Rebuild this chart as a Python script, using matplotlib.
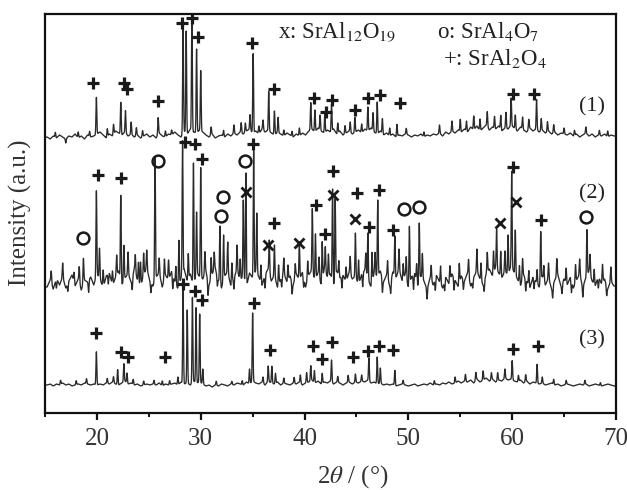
import numpy as np
import matplotlib
matplotlib.use("Agg")
import matplotlib.pyplot as plt

plt.rcParams['font.family'] = ['Liberation Serif', 'DejaVu Serif']
plt.rcParams['mathtext.fontset'] = 'stix'

# ---------------- data (2theta in degrees, intensity in arbitrary units) ----------------
# pattern (1)
base1 = 276
peaks1_pos = [19.95, 22.3, 22.75, 25.9, 28.3, 28.6, 29.15, 29.6, 30.0, 34.75, 35.05, 36.55, 37.1, 37.45,
              40.6, 41.0, 41.5, 41.95, 42.6, 44.85, 46.1, 46.6, 47.0, 47.5, 48.9, 59.9, 60.3, 62.35, 62.8]
peaks1_h = [37, 32, 22, 17, 110, 102, 120, 84, 60, 15, 79, 39, 24, 15,
            27, 22, 15, 18, 27, 15, 24, 18, 32, 15, 12, 27, 14, 30, 12]
minor1_pos = [16.0, 17.0, 18.2, 19.3, 21.0, 21.6, 23.3, 23.8, 24.4, 26.6, 27.2, 31.0, 32.2, 33.2, 33.9,
              34.3, 35.6, 36.0, 38.0, 38.8, 39.5, 43.2, 43.9, 44.4, 45.5, 48.2, 49.8, 51.5, 53.0, 54.2,
              55.0, 55.6, 56.3, 56.9, 57.6, 58.3, 58.9, 59.4, 61.0, 61.6, 63.4, 64.0, 65.0, 66.0, 67.1,
              68.4, 69.2]
minor1_h = [5, -4, 6, 5, 8, 10, 12, 8, 6, 6, 5, 8, 6, 8, 10,
            9, 8, 10, 6, 5, 8, 10, 8, 10, 9, 8, 6, 5, 8, 10,
            12, 10, 14, 12, 15, 12, 14, 16, 12, 10, 10, 8, 6, 5, 6,
            5, 6]
noise1 = [0, -2, 1, -1, 2, 0, -2, 1, 0, 3, -1, 1, -2, 2, 0, 1, 3,
          5, 2, -1, 3, 1, 6, 4, 2, 5, 1, 3, 0, 2, -1, 1, 3, 0,
          2, -1, 4, 1, 0, 3, 2, 5, 2, 0, 6, 3, 8, 5, 4, 7,
          5, 2, 0, 3, -1, 1, 2, 0, 3, 1, 4, 2, 5, 3, 6, 8, 4,
          6, 3, 8, 5, 7, 4, 2, 5, 3, 1, 4, 2, 0, 3, 1, 4, 2,
          6, 8, 5, 9, 6, 4, 7, 5, 8, 3, 6, 2, 4, 6, 3, 5,
          7, 4, 8, 6, 9, 5, 3, 6, 2, 4, 1, 3, 0, 2, 1, 3, 2,
          0, 2, 1, 3, 0, 2, 1, 3, 2, 4, 1, 5, 3, 6, 4, 7, 5,
          8, 5, 10, 7, 11, 6, 9, 12, 7, 10, 8, 11, 6, 9, 8, 12,
          9, 6, 10, 7, 5, 9, 6, 8, 5, 7, 4, 6, 3, 5, 2, 4, 3,
          2, 4, 1, 3, 0, 2, 4, 1, 3, 0, 2, 1, 3, 0, 2, 1]

# pattern (2)
base2 = 130
peaks2_pos = [18.7, 19.95, 20.25, 22.3, 22.6, 24.0, 24.5, 25.6, 26.5, 27.9,
              28.25, 29.3, 29.6, 30.0, 31.0, 31.85, 32.2, 32.6, 33.5, 34.1,
              34.35, 35.1, 35.4, 36.6, 37.1, 38.0, 39.5, 40.75, 41.05, 41.7,
              42.0, 42.7, 42.95, 44.0, 44.9, 45.2, 46.1, 46.5, 47.05, 48.7,
              49.5, 50.1, 51.05, 51.35, 57.6, 58.5, 58.9, 59.6, 59.95, 60.3,
              61.0, 62.75, 63.05, 66.5, 67.2, 67.5]
peaks2_h = [25, 85, 30, 85, 35, 20, 22, 123, 20, 45,
            133, 123, 60, 110, 20, 58, 45, 30, 25, 75,
            112, 125, 60, 33, 30, 15, 36, 63, 45, 38,
            25, 93, 80, 15, 43, 25, 46, 30, 76, 40,
            15, 58, 58, 25, 20, 40, 25, 40, 95, 45,
            20, 50, 15, 15, 46, 20]
minor2_pos = [15.6, 16.1, 16.7, 17.2, 17.8, 18.3, 19.2, 20.6, 21.1, 21.5, 21.9, 23.0, 23.4, 23.7, 24.2,
              24.8, 25.2, 26.0, 26.9, 27.3, 27.6, 28.8, 30.4, 30.7, 31.3, 31.6, 33.0, 33.2, 33.8, 35.8,
              36.2, 37.5, 37.8, 38.4, 38.8, 39.1, 39.9, 40.3, 41.4, 42.3, 43.3, 43.6, 44.4, 45.6, 45.9,
              46.8, 47.5, 48.0, 48.3, 49.1, 49.8, 50.5, 50.8, 51.8, 52.2, 52.6, 53.1, 53.5, 54.0, 54.4,
              54.9, 55.3, 55.8, 56.2, 56.6, 57.0, 57.3, 58.2, 59.3, 60.7, 61.3, 61.6, 62.1, 62.4, 63.5,
              63.9, 64.3, 64.8, 65.2, 65.7, 66.1, 66.8, 67.9, 68.3, 68.7, 69.1, 69.5]
minor2_h = [12, -10, 14, -8, 10, 16, -12, 18, -10, 15, 20, 22, -12, 18, 25,
            18, -10, 15, 20, -14, 18, 25, 22, -15, 18, -10, 20, -12, 22, 18,
            -14, 20, -10, 15, -12, 14, -10, 18, 20, 22, 15, -12, 18, -14, 20,
            22, -14, 18, -12, 20, 22, -15, 18, -10, 15, -12, 18, -10, 15, -12,
            20, -10, 18, -8, 22, 18, -10, 22, 20, 18, -12, 15, -10, 14, 15,
            -12, 18, -10, 15, -12, 18, -10, 15, -12, 18, -10, 14]
noise2 = [-4, 3, -6, 5, -2, 6, -5, 2, 8, -3, 4, -7, 3, 1, 6, -2, 9,
          4, -5, 7, 10, -3, 6, 12, -2, 5, 9, 1, 14, 3, -4, 8, 15, 2,
          -3, 6, 10, -4, 8, 3, 12, 1, -6, 5, 14, 2, 9, -3, 11, 6,
          4, 12, -2, 9, 15, 3, -5, 7, 11, -3, 6, 13, 2, 8, -4, 10, 5,
          12, 6, -3, 9, 14, 2, 8, -5, 4, 10, 1, 7, -2, 9, 3, 11, -4,
          8, 13, 3, 10, -2, 14, 6, 9, -3, 12, 5, 8, 1, 11, 4, 7,
          -2, 9, 13, 4, -4, 10, 6, 12, 1, 8, -3, 11, 5, 14, 2, 9, -5,
          6, 10, -3, 7, 2, -6, 5, -2, 8, 1, -5, 6, -1, 9, 3, -4, 7,
          2, 10, -3, 6, 12, 4, -2, 9, 14, 7, 16, 10, 5, 12, 8, 18,
          10, 4, -3, 8, 2, -5, 6, 1, -4, 7, -2, 5, -6, 3, 8, -3, 4,
          -2, 6, -5, 3, 9, -4, 5, 12, 2, -3, 7, -1, 4, -6, 2, -3]

# pattern (3)
base3 = 28
peaks3_pos = [19.95, 22.0, 22.6, 22.9, 26.3, 28.3, 28.7, 29.2, 29.55, 29.9,
              30.2, 34.7, 35.0, 36.5, 36.85, 37.2, 40.6, 40.95, 41.7, 42.6,
              44.9, 46.2, 47.0, 47.3, 48.7, 60.0, 62.4]
peaks3_h = [33, 15, 18, 10, 5, 93, 73, 85, 75, 68,
            15, 15, 68, 15, 17, 10, 15, 12, 10, 22,
            8, 23, 27, 15, 15, 19, 19]
minor3_pos = [16.5, 18.0, 19.0, 21.0, 21.6, 23.5, 24.5, 25.5, 27.0, 27.8, 31.5, 33.0, 34.0, 36.0, 38.0,
              39.0, 39.6, 40.2, 43.2, 44.2, 45.5, 49.5, 52.5, 54.5, 55.5, 56.5, 57.2, 58.0, 58.6, 59.3,
              60.6, 61.3, 62.9, 64.0, 65.2, 67.0, 68.5]
minor3_h = [4, 4, 5, 5, 6, 5, 4, 4, 4, 8, 4, 3, 4, 6, 5,
            6, 8, 10, 6, 7, 6, 4, 4, 6, 7, 8, 9, 7, 8, 9,
            6, 7, 6, 5, 4, 4, 3]
noise3 = [0, 1, -1, 1, 0, 2, 0, 1, -1, 0, 1, 0, 2, 1, 0, 1, 0,
          1, 0, 2, 1, 3, 1, 0, 2, 4, 1, 2, 0, 1, -1, 0, 1, 0,
          1, 0, 2, -1, 1, 0, 1, 2, 0, 3, 1, 2, 0, 4, 2, 3,
          1, -1, 0, -2, 0, -1, 1, 0, -1, 1, 0, 2, 1, 0, 3, 1, 4,
          2, 1, 3, 0, 4, 2, 1, 3, 0, 2, 1, 0, 2, 1, 3, 0, 2,
          3, 5, 2, 4, 1, 3, 2, 4, 1, 3, 2, 0, 2, 3, 1, 3,
          2, 4, 3, 5, 2, 3, 1, 2, 0, 1, 0, 1, -1, 0, 1, 0, -1,
          0, 1, -1, 0, 1, 0, 2, 0, 1, 0, 2, 1, 3, 1, 2, 4, 2,
          4, 3, 5, 2, 6, 3, 5, 7, 4, 6, 3, 5, 4, 7, 5, 6,
          4, 3, 5, 2, 4, 1, 3, 2, 1, 2, 0, 1, 2, 0, 1, -1, 0,
          1, 0, -1, 0, 1, 0, 1, -1, 0, 1, 0, -1, 0, 1, 0, -1]

# phase markers: '+' SrAl2O4, 'o' SrAl4O7, 'x' SrAl12O19
plus1_x = [19.62, 22.61, 22.90, 25.89, 28.20, 29.16, 29.74, 34.94, 37.06, 40.92, 42.07, 42.65,
           44.87, 46.12, 47.27, 49.20, 60.09, 62.11]
plus1_y = [330, 330, 324, 312, 390, 395, 376, 370, 324, 315, 301, 313, 303, 315, 318, 310, 319, 319]
plus2_x = [20.1, 22.3, 28.5, 29.45, 30.1, 35.0, 37.1, 41.1, 42.0, 42.75, 45.1, 46.2, 47.2, 48.5, 60.1, 62.8]
plus2_y = [238, 235, 271, 269, 254, 269, 190, 208, 179, 242, 220, 186, 223, 183, 246, 193]
circ2_x = [18.7, 25.9, 31.96, 32.15, 34.3, 49.6, 51.0, 67.1]
circ2_y = [175, 252, 197, 216, 252, 204, 206, 196]
cross2_x = [34.4, 36.5, 39.5, 42.7, 44.9, 58.8, 60.4]
cross2_y = [221, 168, 170, 218, 194, 190, 211]
plus3_x = [19.9, 22.3, 23.0, 26.6, 28.3, 29.45, 30.1, 35.1, 36.7, 40.8, 41.7, 42.65, 44.7, 46.1, 47.2,
           48.5, 60.1, 62.5]
plus3_y = [80, 61, 56, 56, 129, 122, 113, 110, 63, 67, 54, 71, 56, 62, 67, 63, 64, 67]

curve_labels = ['(1)', '(2)', '(3)']
curve_label_y = [306, 219, 73]
xticks_major = [20, 30, 40, 50, 60, 70]
xticks_minor = [15, 25, 35, 45, 55, 65]

# ---------------- drawing ----------------
fig = plt.figure(figsize=(6.27, 4.9), dpi=100)
ax = fig.add_axes([45 / 627, 77 / 490, 571 / 627, 399 / 490])

x = np.arange(15.0, 70.0001, 0.01)


def profile(base, noise, pos, h, mpos, mh):
    nx = 15.2 + 0.3 * np.arange(len(noise))
    y = base + np.interp(x, nx, noise)
    for p, hh in zip(list(pos) + list(mpos), list(h) + list(mh)):
        y = y + hh * np.exp(-0.5 * ((x - p) / 0.04) ** 2)
    return y


line_col = '#2a2a2a'
for args in [(base1, noise1, peaks1_pos, peaks1_h, minor1_pos, minor1_h),
             (base2, noise2, peaks2_pos, peaks2_h, minor2_pos, minor2_h),
             (base3, noise3, peaks3_pos, peaks3_h, minor3_pos, minor3_h)]:
    ax.plot(x, profile(*args), color=line_col, lw=0.95)

mk_col = '#1a1a1a'
for px_, py_ in [(plus1_x, plus1_y), (plus2_x, plus2_y), (plus3_x, plus3_y)]:
    ax.plot(px_, py_, ls='none', marker='+', ms=8.5, mew=2.3, color=mk_col)
ax.plot(circ2_x, circ2_y, ls='none', marker='o', ms=8.5, mew=1.8, mfc='none', mec=mk_col)
ax.plot(cross2_x, cross2_y, ls='none', marker='x', ms=7, mew=2.0, color=mk_col)

for lab, ly in zip(curve_labels, curve_label_y):
    ax.text(67.7, ly, lab, fontsize=16, ha='center', va='center', color='#222222')

ax.text(37.45, 375, 'x: SrAl$_{12}$O$_{19}$', fontsize=16.5, ha='left', va='baseline', color='#222222')
ax.text(52.8, 375, 'o: SrAl$_{4}$O$_{7}$', fontsize=16.5, ha='left', va='baseline', color='#222222')
ax.text(53.3, 348, '+: SrAl$_{2}$O$_{4}$', fontsize=16.5, ha='left', va='baseline', color='#222222')

ax.set_xlim(15, 70)
ax.set_ylim(0, 399)
ax.set_yticks([])
ax.set_xticks(xticks_major)
ax.set_xticks(xticks_minor, minor=True)
ax.tick_params(axis='x', which='major', direction='out', length=5, width=1.6, labelsize=18,
               pad=6, colors='#111111', labelcolor='#333333')
ax.tick_params(axis='x', which='minor', direction='out', length=3, width=1.4, colors='#111111')
for s in ax.spines.values():
    s.set_linewidth(1.6)
    s.set_color('#111111')

fig.text(353 / 627, 1 - 477 / 490, '2$\\theta$ / (°)', fontsize=18, ha='center', va='center',
         color='#333333')
fig.text(20 / 627, 1 - 213 / 490, 'Intensity (a.u.)', fontsize=18, rotation=90, ha='center',
         va='center', color='#333333')

fig.savefig('out.png', dpi=100)
